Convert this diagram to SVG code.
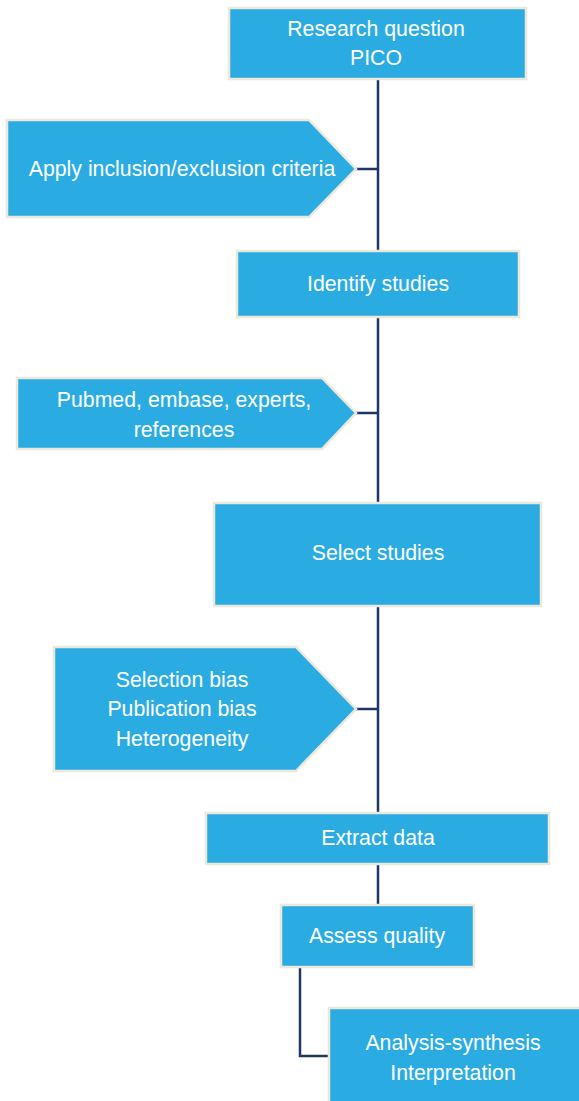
<svg xmlns="http://www.w3.org/2000/svg" width="579" height="1101" viewBox="0 0 579 1101">
<style>
.box{fill:#2aace3;stroke:#ece8dc;stroke-width:2.5}
.t{font-family:"Liberation Sans",Arial,sans-serif;font-size:21.3px;fill:#ffffff;text-anchor:middle}
.c{fill:none;stroke:#1e3764;stroke-width:2.5}
</style>
<rect width="579" height="1101" fill="#ffffff"/>
<g id="connectors">
<path class="c" d="M378 80V251"/>
<path class="c" d="M356 169H378"/>
<path class="c" d="M378 317V503"/>
<path class="c" d="M356 413H378"/>
<path class="c" d="M378 606V813"/>
<path class="c" d="M356 709H378"/>
<path class="c" d="M378 864V905"/>
<path class="c" d="M300 967V1056H329"/>
</g>
<g id="research">
<rect class="box" x="229" y="8" width="297" height="71"/>
<text class="t" x="376" y="36">Research question</text>
<text class="t" x="376" y="65">PICO</text>
</g>
<g id="apply">
<polygon class="box" points="7,120 309,120 356,169 309,217 7,217"/>
<text class="t" x="182" y="176">Apply inclusion/exclusion criteria</text>
</g>
<g id="identify">
<rect class="box" x="237" y="251" width="282" height="66"/>
<text class="t" x="378" y="291">Identify studies</text>
</g>
<g id="pubmed">
<polygon class="box" points="17,378 322,378 356,413 322,449 17,449"/>
<text class="t" x="184" y="407">Pubmed, embase, experts,</text>
<text class="t" x="184" y="437">references</text>
</g>
<g id="select">
<rect class="box" x="214" y="503" width="327" height="103"/>
<text class="t" x="378" y="560">Select studies</text>
</g>
<g id="bias">
<polygon class="box" points="54,647 296,647 356,709 296,771 54,771"/>
<text class="t" x="182" y="687">Selection bias</text>
<text class="t" x="182" y="716">Publication bias</text>
<text class="t" x="182" y="746">Heterogeneity</text>
</g>
<g id="extract">
<rect class="box" x="206" y="813" width="343" height="51"/>
<text class="t" x="378" y="845">Extract data</text>
</g>
<g id="assess">
<rect class="box" x="281" y="905" width="193" height="62"/>
<text class="t" x="377" y="943">Assess quality</text>
</g>
<g id="analysis">
<rect class="box" x="329" y="1008" width="260" height="100"/>
<text class="t" x="453" y="1050">Analysis-synthesis</text>
<text class="t" x="453" y="1080">Interpretation</text>
</g>
</svg>
